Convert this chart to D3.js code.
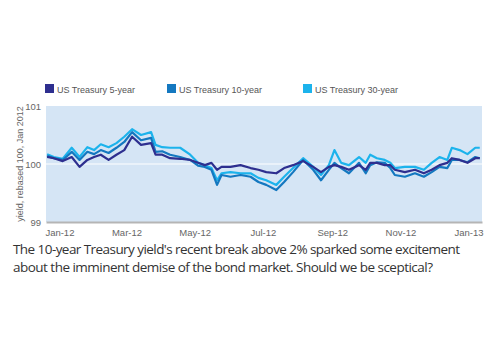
<!DOCTYPE html>
<html>
<head>
<meta charset="utf-8">
<script src="https://cdn.jsdelivr.net/npm/d3@7"></script>
<style>
  body { margin: 0; background: #fff; }
  svg { display: block; }
</style>
</head>
<body>
<svg id="chart" width="500" height="350"></svg>
<script>
const dates = [
  '2011-12-21', '2011-12-27', '2012-01-04', '2012-01-12', '2012-01-19', '2012-01-26',
  '2012-02-01', '2012-02-07', '2012-02-14', '2012-02-21', '2012-02-28', '2012-03-06',
  '2012-03-14', '2012-03-23', '2012-03-27', '2012-04-02', '2012-04-09', '2012-04-18',
  '2012-04-27', '2012-05-04', '2012-05-10', '2012-05-16', '2012-05-21', '2012-05-25',
  '2012-06-02', '2012-06-11', '2012-06-20', '2012-06-27', '2012-07-04', '2012-07-13',
  '2012-07-20', '2012-07-28', '2012-08-06', '2012-08-15', '2012-08-22', '2012-08-29',
  '2012-09-03', '2012-09-09', '2012-09-16', '2012-09-25', '2012-10-01', '2012-10-05',
  '2012-10-11', '2012-10-18', '2012-10-23', '2012-10-27', '2012-11-05', '2012-11-14',
  '2012-11-22', '2012-11-29', '2012-12-06', '2012-12-13', '2012-12-17', '2012-12-24',
  '2012-12-31', '2013-01-07', '2013-01-11'
];

// Yields rebased to 100 (Jan 2012)
const us5 = [
  100.12, 100.10, 100.05, 100.12, 99.95, 100.07, 100.12, 100.16, 100.07, 100.16,
  100.24, 100.47, 100.33, 100.36, 100.16, 100.16, 100.10, 100.09, 100.07, 100.02,
  99.98, 100.02, 99.90, 99.95, 99.95, 99.98, 99.93, 99.90, 99.86, 99.84,
  99.93, 99.98, 100.05, 99.95, 99.86, 99.95, 99.98, 99.95, 99.90, 99.98,
  99.90, 100.02, 100.02, 99.98, 99.98, 99.90, 99.86, 99.90, 99.84, 99.90,
  99.98, 100.02, 100.10, 100.07, 100.02, 100.10, 100.10
];
const us10 = [
  100.14, 100.10, 100.07, 100.21, 100.07, 100.21, 100.17, 100.24, 100.19, 100.28,
  100.38, 100.55, 100.41, 100.45, 100.21, 100.22, 100.16, 100.12, 100.07, 99.97,
  99.95, 99.90, 99.64, 99.81, 99.78, 99.81, 99.78, 99.69, 99.64, 99.55,
  99.69, 99.86, 100.07, 99.90, 99.72, 99.90, 100.02, 99.93, 99.84, 100.02,
  99.84, 99.98, 100.03, 100.02, 99.93, 99.81, 99.78, 99.84, 99.78, 99.86,
  99.95, 99.93, 100.07, 100.07, 100.03, 100.12, 100.10
];
const us30 = [
  100.17, 100.12, 100.09, 100.28, 100.12, 100.29, 100.24, 100.34, 100.29, 100.36,
  100.47, 100.60, 100.50, 100.55, 100.33, 100.29, 100.28, 100.28, 100.16, 100.02,
  99.98, 99.93, 99.72, 99.84, 99.86, 99.84, 99.84, 99.76, 99.72, 99.64,
  99.78, 99.93, 100.10, 99.95, 99.81, 99.98, 100.24, 100.02, 99.98, 100.12,
  100.02, 100.16, 100.10, 100.07, 100.02, 99.93, 99.95, 99.95, 99.90, 100.02,
  100.12, 100.07, 100.28, 100.24, 100.17, 100.28, 100.28
];

const seriesNames = ['US Treasury 5-year', 'US Treasury 10-year', 'US Treasury 30-year'];
const seriesColors = ['#2e2f8f', '#1478c0', '#1cb3ec'];
const yTicks = [99, 100, 101];
const caption = [
  "The 10-year Treasury yield's recent break above 2% sparked some excitement",
  'about the imminent demise of the bond market. Should we be sceptical?'
];

const parse = d3.timeParse('%Y-%m-%d');
const series = [us5, us10, us30].map((vals, i) => ({
  name: seriesNames[i],
  color: seriesColors[i],
  values: vals.map((v, j) => ({ date: parse(dates[j]), value: v }))
}));

const svg = d3.select('#chart');
const plot = { left: 46, right: 482, top: 106, bottom: 222 };
const chartFont = '"Liberation Sans", Arial, sans-serif';

// Scales
const x = d3.scaleTime()
  .domain([new Date(2011, 11, 20), new Date(2013, 0, 13)])
  .range([plot.left, plot.right]);
const y = d3.scaleLinear()
  .domain([99, 101])
  .range([plot.bottom, plot.top]);

// Plot background
svg.append('rect')
  .attr('x', plot.left)
  .attr('y', plot.top)
  .attr('width', plot.right - plot.left)
  .attr('height', plot.bottom - plot.top)
  .attr('fill', '#d5e5f5');

// White gridline at 100
svg.append('line')
  .attr('x1', plot.left).attr('x2', plot.right)
  .attr('y1', y(100)).attr('y2', y(100))
  .attr('stroke', '#fff')
  .attr('stroke-width', 1.2);

// Y axis
const yAxis = svg.append('g')
  .attr('transform', `translate(${plot.left},0)`)
  .call(d3.axisLeft(y).tickValues(yTicks).tickFormat(d3.format('d')).tickSize(0).tickPadding(5));
yAxis.select('.domain').remove();
yAxis.selectAll('text')
  .style('font-family', chartFont)
  .style('font-size', '9.5px')
  .attr('fill', '#666');

// X axis
const xAxis = svg.append('g')
  .attr('transform', `translate(0,${plot.bottom})`)
  .call(d3.axisBottom(x)
    .ticks(d3.timeMonth.every(2))
    .tickFormat(d3.timeFormat('%b-%y'))
    .tickSize(0)
    .tickPadding(7));
xAxis.select('.domain')
  .attr('stroke', '#b5b5b5')
  .attr('stroke-width', 2);
xAxis.selectAll('text')
  .style('font-family', chartFont)
  .style('font-size', '9.5px')
  .attr('fill', '#666');

// Y axis title
svg.append('text')
  .attr('transform', `translate(23,${(plot.top + plot.bottom) / 2}) rotate(-90)`)
  .attr('text-anchor', 'middle')
  .style('font-family', chartFont)
  .style('font-size', '9px')
  .attr('fill', '#666')
  .text('yield, rebased 100, Jan 2012');

// Lines
const line = d3.line()
  .x(d => x(d.date))
  .y(d => y(d.value));

svg.selectAll('path.series')
  .data(series.slice().reverse())
  .enter()
  .append('path')
  .attr('class', 'series')
  .attr('d', d => line(d.values))
  .attr('fill', 'none')
  .attr('stroke', d => d.color)
  .attr('stroke-width', 2.2)
  .attr('stroke-linejoin', 'round');

// Legend
const legendX = [45, 167, 303];
const legend = svg.selectAll('g.legend')
  .data(series)
  .enter()
  .append('g')
  .attr('class', 'legend')
  .attr('transform', (d, i) => `translate(${legendX[i]},84)`);
legend.append('rect')
  .attr('width', 9)
  .attr('height', 9)
  .attr('fill', d => d.color);
legend.append('text')
  .attr('x', 12)
  .attr('y', 8.5)
  .style('font-family', chartFont)
  .style('font-size', '9px')
  .attr('fill', '#555')
  .text(d => d.name);

// Caption
const captionWidths = [447, 420];
svg.selectAll('text.caption')
  .data(caption)
  .enter()
  .append('text')
  .attr('class', 'caption')
  .attr('x', 13)
  .attr('y', (d, i) => 254 + i * 18)
  .attr('textLength', (d, i) => captionWidths[i])
  .attr('lengthAdjust', 'spacing')
  .style('font-family', '"Open Sans", sans-serif')
  .style('font-size', '13.5px')
  .attr('fill', '#333')
  .text(d => d);
</script>
</body>
</html>
